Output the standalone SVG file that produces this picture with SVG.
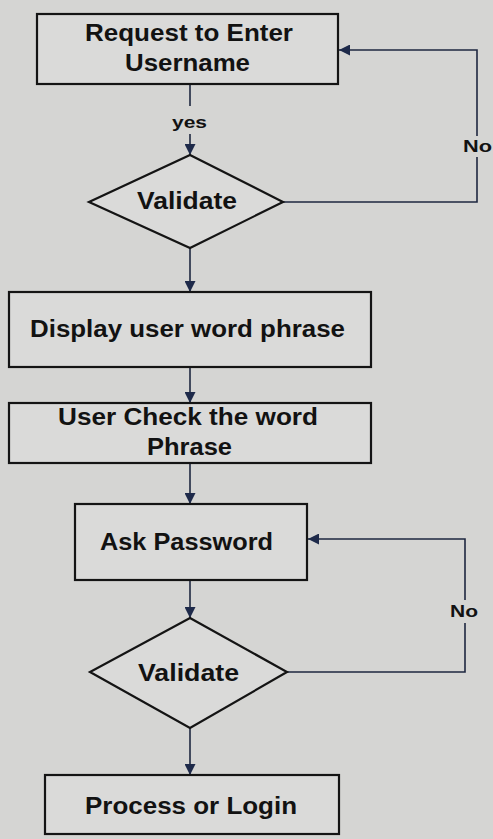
<svg xmlns="http://www.w3.org/2000/svg" width="493" height="839" viewBox="0 0 493 839">
  <style>
    .box { fill: #dadad9; stroke: #141414; stroke-width: 2.2; }
    .lbl { font-family: "Liberation Sans", Arial, sans-serif; font-weight: bold; font-size: 23px; fill: #121212; }
    .small { font-size: 17px; }
    .conn { fill: none; stroke: #1e2740; stroke-width: 1.6; }
  </style>
  <defs>
    <marker id="arrow" viewBox="0 0 10 10" refX="10" refY="5" markerWidth="11" markerHeight="11" markerUnits="userSpaceOnUse" orient="auto">
      <path d="M0,0 L10,5 L0,10 z" fill="#1e2a4a"/>
    </marker>
  </defs>

  <rect width="493" height="839" fill="#d5d5d3"/>

  <!-- connectors -->
  <g id="connectors">
    <path class="conn" d="M190,85 V106"/>
    <path class="conn" d="M190,134 V155" marker-end="url(#arrow)"/>
    <path class="conn" d="M190,248 V292" marker-end="url(#arrow)"/>
    <path class="conn" d="M190,367 V403" marker-end="url(#arrow)"/>
    <path class="conn" d="M190,463 V504" marker-end="url(#arrow)"/>
    <path class="conn" d="M190,580 V618" marker-end="url(#arrow)"/>
    <path class="conn" d="M190,728 V775" marker-end="url(#arrow)"/>
    <!-- username retry loop -->
    <path class="conn" d="M283,202 H477 V157"/>
    <path class="conn" d="M477,136 V50 H339" marker-end="url(#arrow)"/>
    <!-- password retry loop -->
    <path class="conn" d="M287,672 H465 V623"/>
    <path class="conn" d="M465,600 V539 H308" marker-end="url(#arrow)"/>
    <text class="lbl small" x="172" y="128" textLength="35" lengthAdjust="spacingAndGlyphs">yes</text>
    <text class="lbl small" x="463" y="152" textLength="29" lengthAdjust="spacingAndGlyphs">No</text>
    <text class="lbl small" x="450" y="617" textLength="28" lengthAdjust="spacingAndGlyphs">No</text>
  </g>

  <g id="request-username">
    <rect class="box" x="37" y="14" width="301" height="70"/>
    <text class="lbl" x="85" y="41" textLength="208" lengthAdjust="spacingAndGlyphs">Request to Enter</text>
    <text class="lbl" x="125" y="71" textLength="125" lengthAdjust="spacingAndGlyphs">Username</text>
  </g>

  <g id="validate-username">
    <polygon class="box" points="190,155 283,202 190,248 89,202"/>
    <text class="lbl" x="137" y="209" textLength="100" lengthAdjust="spacingAndGlyphs">Validate</text>
  </g>

  <g id="display-phrase">
    <rect class="box" x="9" y="292" width="362" height="75"/>
    <text class="lbl" x="30" y="337" textLength="315" lengthAdjust="spacingAndGlyphs">Display user word phrase</text>
  </g>

  <g id="check-phrase">
    <rect class="box" x="9" y="403" width="362" height="60"/>
    <text class="lbl" x="58" y="425" textLength="260" lengthAdjust="spacingAndGlyphs">User Check the word</text>
    <text class="lbl" x="147" y="455" textLength="85" lengthAdjust="spacingAndGlyphs">Phrase</text>
  </g>

  <g id="ask-password">
    <rect class="box" x="75" y="504" width="232" height="76"/>
    <text class="lbl" x="100" y="550" textLength="173" lengthAdjust="spacingAndGlyphs">Ask Password</text>
  </g>

  <g id="validate-password">
    <polygon class="box" points="190,618 287,672 190,728 90,672"/>
    <text class="lbl" x="138" y="681" textLength="101" lengthAdjust="spacingAndGlyphs">Validate</text>
  </g>

  <g id="process-login">
    <rect class="box" x="45" y="775" width="294" height="59"/>
    <text class="lbl" x="85" y="814" textLength="212" lengthAdjust="spacingAndGlyphs">Process or Login</text>
  </g>
</svg>
